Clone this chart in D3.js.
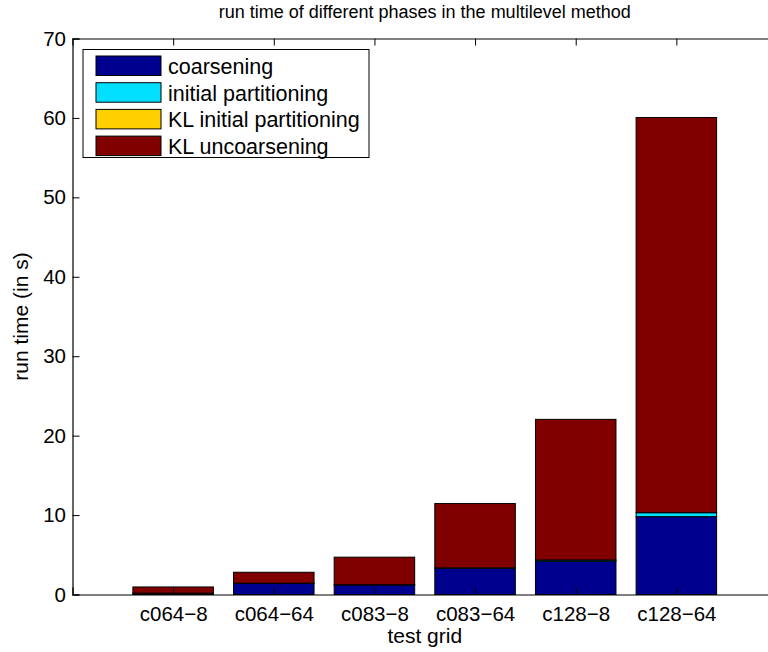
<!DOCTYPE html>
<html>
<head>
<meta charset="utf-8">
<script src="https://cdn.jsdelivr.net/npm/d3@7"></script>
<style>
  body { margin: 0; background: #fff; }
  svg { display: block; font-family: "Liberation Sans", Arial, sans-serif; }
</style>
</head>
<body>
<svg id="chart" width="768" height="652"></svg>
<script>
var categories = ['c064\u22128', 'c064\u221264', 'c083\u22128', 'c083\u221264', 'c128\u22128', 'c128\u221264']
var phases = ['coarsening', 'initial partitioning', 'KL initial partitioning', 'KL uncoarsening']
var coarsening = [0.15, 1.4, 1.2, 3.3, 4.2, 9.8]
var initialPartitioning = [0.02, 0.03, 0.03, 0.05, 0.15, 0.5]
var klInitialPartitioning = [0, 0, 0, 0, 0, 0]
var klUncoarsening = [0.78, 1.37, 3.47, 8.1, 17.7, 49.75]
var colors = ['#00008f', '#00dfff', '#ffcf00', '#800000']
var yTicks = [0, 10, 20, 30, 40, 50, 60, 70]

var svg = d3.select('#chart')
  , plotLeft = 72.5
  , plotRight = 777
  , plotTop = 38.5
  , plotBottom = 594.5
  , FONT = '"Liberation Sans", Arial, sans-serif'

var rows = categories.map(function(c, i) {
  return {
      cat: c
    , idx: i + 1
    , 'coarsening': coarsening[i]
    , 'initial partitioning': initialPartitioning[i]
    , 'KL initial partitioning': klInitialPartitioning[i]
    , 'KL uncoarsening': klUncoarsening[i]
  }
})

var x = d3.scaleLinear().domain([0, 7]).range([plotLeft, plotRight])
var y = d3.scaleLinear().domain([0, 70]).range([plotBottom, plotTop])

var stack = d3.stack().keys(phases)(rows)

// bars
svg.append('g')
  .selectAll('g')
  .data(stack)
  .enter()
    .append('g')
    .attr('fill', function(d, i) { return colors[i] })
    .selectAll('rect')
    .data(function(d) { return d })
    .enter()
      .append('rect')
      .attr('x', function(d) { return x(d.data.idx - 0.4) })
      .attr('width', function(d) { return x(0.8) - x(0) })
      .attr('y', function(d) { return y(d[1]) })
      .attr('height', function(d) { return Math.max(0, y(d[0]) - y(d[1])) })
      .attr('stroke', '#000')
      .attr('stroke-width', 1)

// axes box (ticks inward, matlab style)
var yAxis = d3.axisLeft(y).tickValues(yTicks).tickSize(-7).tickPadding(6.5)
var yG = svg.append('g').attr('transform', 'translate(' + plotLeft + ',0)').call(yAxis)

var xAxis = d3.axisBottom(x).tickValues(d3.range(1, 7))
  .tickFormat(function(d) { return categories[d - 1] }).tickSize(-7).tickPadding(12)
var xG = svg.append('g').attr('transform', 'translate(0,' + plotBottom + ')').call(xAxis)

var xTop = d3.axisTop(x).tickValues(d3.range(1, 7)).tickFormat('').tickSize(-7)
var xtG = svg.append('g').attr('transform', 'translate(0,' + plotTop + ')').call(xTop)

;[yG, xG, xtG].forEach(function(g) {
  g.select('.domain').attr('stroke', '#000').attr('stroke-width', 1.2)
  g.selectAll('.tick line').attr('stroke', '#000')
  g.selectAll('.tick text').attr('fill', '#000').attr('font-size', '20.5px')
    .attr('font-family', FONT)
})

// title and axis labels
svg.append('text')
  .attr('x', (plotLeft + plotRight) / 2)
  .attr('y', 18)
  .attr('text-anchor', 'middle')
  .attr('font-size', '18px')
  .text('run time of different phases in the multilevel method')

svg.append('text')
  .attr('x', (plotLeft + plotRight) / 2)
  .attr('y', 643)
  .attr('text-anchor', 'middle')
  .attr('font-size', '21px')
  .text('test grid')

svg.append('text')
  .attr('transform', 'translate(28,' + (plotTop + plotBottom) / 2 + ') rotate(-90)')
  .attr('text-anchor', 'middle')
  .attr('font-size', '21px')
  .text('run time (in s)')

// legend
var legend = svg.append('g').attr('transform', 'translate(83,49.5)')

legend.append('rect')
  .attr('width', 286)
  .attr('height', 108)
  .attr('fill', '#fff')
  .attr('stroke', '#000')

var item = legend.selectAll('.item')
  .data(phases)
  .enter()
    .append('g')
    .attr('class', 'item')
    .attr('transform', function(d, i) { return 'translate(13,' + (6.5 + i * 26.7) + ')' })

item.append('rect')
  .attr('width', 65)
  .attr('height', 19.5)
  .attr('fill', function(d, i) { return colors[i] })
  .attr('stroke', '#000')

item.append('text')
  .attr('x', 72)
  .attr('y', 18)
  .attr('font-size', '21.5px')
  .text(function(d) { return d })
</script>
</body>
</html>
